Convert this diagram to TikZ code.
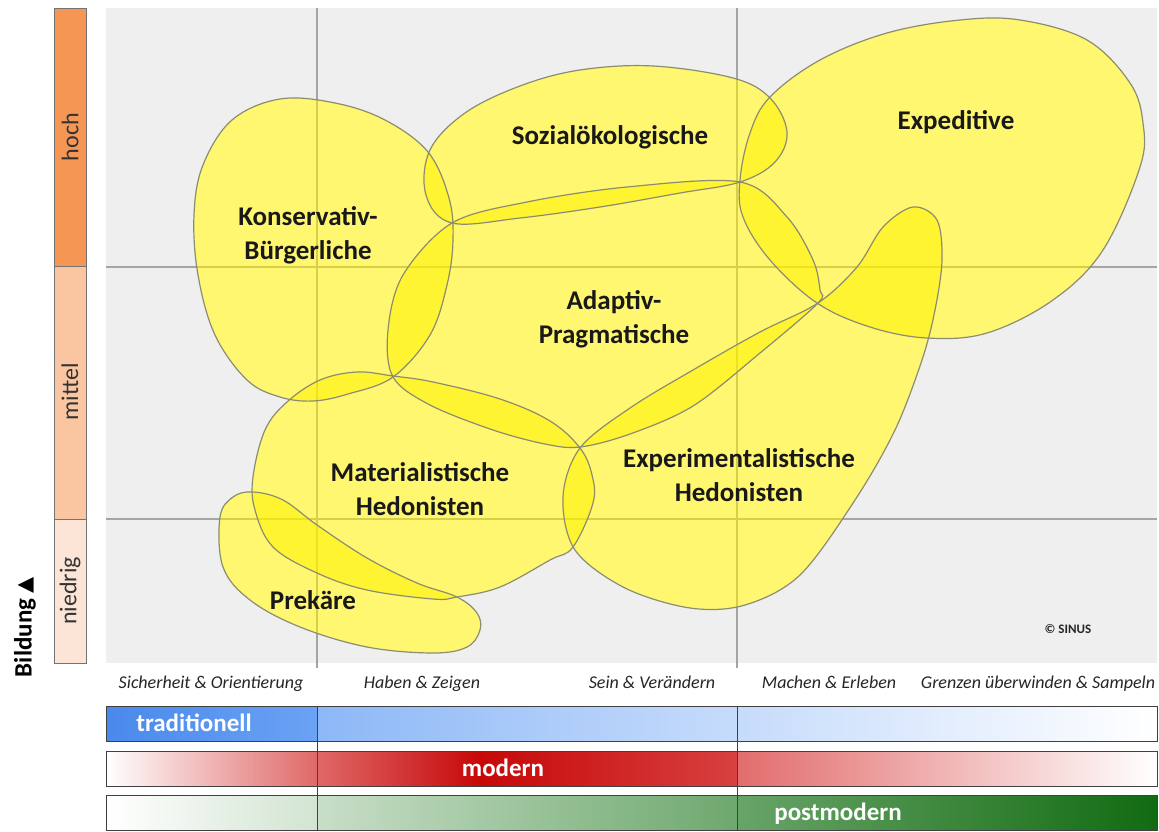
\documentclass[tikz,border=0pt]{standalone}
\usepackage{fontspec}
\setmainfont{Carlito}
\newfontfamily\dejavu{DejaVu Sans}
\definecolor{bgc}{HTML}{EFEFEF}
\definecolor{gridc}{HTML}{A4A4A4}
\definecolor{outl}{HTML}{8C8C72}
\definecolor{hochc}{HTML}{F59655}
\definecolor{mittelc}{HTML}{FAC6A2}
\definecolor{niedrigc}{HTML}{FCE4D6}
\definecolor{tradA}{HTML}{4A89EC}
\definecolor{tradB}{HTML}{6AA2F4}
\definecolor{tradC}{HTML}{8DB8F7}
\definecolor{modA}{HTML}{E06868}
\definecolor{modB}{HTML}{C60808}
\definecolor{modC}{HTML}{D84040}
\definecolor{modD}{HTML}{E26C6C}
\definecolor{modE}{HTML}{EFB0B0}
\definecolor{postA}{HTML}{D2E4D2}
\definecolor{postB}{HTML}{C8DEC8}
\definecolor{postC}{HTML}{6EA86E}
\definecolor{postD}{HTML}{68A468}
\definecolor{postE}{HTML}{126B12}
\begin{document}
\begin{tikzpicture}[x=1pt,y=-1pt,
  under/.style={fill=white, draw=none},
  blob/.style={fill=yellow, fill opacity=0.56, draw=none},
  blobline/.style={draw=outl, line width=1.2pt},
  gridline/.style={draw=gridc, line width=1.4pt},
  lab/.style={font=\fontsize{27}{34}\selectfont\bfseries, align=center, text=black!90, inner sep=0pt},
  xlab/.style={font=\fontsize{18}{22}\selectfont\itshape, text=black!85, inner sep=0pt, anchor=base},
  barlab/.style={font=\fontsize{25}{30}\selectfont\bfseries, text=white, inner sep=0pt, anchor=base},
  lvl/.style={font=\fontsize{24}{28}\selectfont, text=black!80, rotate=90, inner sep=0pt},
  lvlbox/.style={draw=black!55, line width=0.9pt},
  barbox/.style={draw=black!75, line width=1pt}
]
\useasboundingbox (0,0) rectangle (1159,832);
\fill[white] (0,0) rectangle (1159,832);

% shapes
\def\shK{plot[smooth cycle, tension=0.6] coordinates {(280,99) (335,103) (385,120) (428,152) (449,198) (453,240) (447,285) (430,335) (393,377) (348,394) (313,401) (280,397) (247,380) (215,335) (198,275) (194,215) (203,165) (232,120)}}
\def\shS{plot[smooth cycle, tension=0.6] coordinates {(452,223) (426,195) (430,150) (465,113) (520,86) (580,70) (653,66) (733,78) (770,98) (787,132) (775,162) (740,182) (680,193) (600,207) (520,218)}}
\def\shA{plot[smooth cycle, tension=0.55] coordinates {(452,223) (527,202) (627,187) (740,182) (787,217) (813,260) (820,290) (818,303) (760,353) (693,406) (630,434) (580,447) (545,444) (493,430) (430,405) (393,377) (388,330) (403,275)}}
\def\shE{plot[smooth cycle, tension=0.6] coordinates {(740,180) (743,217) (770,260) (817,303) (870,327) (927,338) (987,333) (1053,300) (1103,250) (1140,167) (1143,123) (1130,83) (1087,40) (1020,20) (960,20) (887,33) (820,60) (770,97) (750,133)}}
\def\shX{plot[smooth cycle, tension=0.55] coordinates {(580,448) (630,408) (693,370) (760,332) (818,303) (857,267) (883,227) (913,207) (937,220) (942,260) (935,310) (922,360) (895,430) (855,500) (800,575) (745,605) (690,608) (625,588) (575,550) (563,497)}}
\def\shM{plot[smooth cycle, tension=0.6] coordinates {(393,376) (433,382) (500,399) (550,421) (580,448) (592,475) (593,503) (573,547) (550,560) (500,587) (457,597) (433,599) (367,590) (317,573) (273,547) (255,510) (253,477) (265,430) (287,402) (320,380) (357,372)}}
\def\shP{plot[smooth cycle, tension=0.6] coordinates {(220,517) (233,497) (253,492) (283,500) (317,525) (367,558) (417,583) (457,597) (477,613) (480,630) (467,647) (433,653) (367,647) (300,627) (250,600) (223,567)}}

% plot background, white underlay, grid
\fill[bgc] (106,8) rectangle (1157,663);
\fill[under] \shK; \fill[under] \shS; \fill[under] \shA; \fill[under] \shE;
\fill[under] \shX; \fill[under] \shM; \fill[under] \shP;
\draw[gridline] (317,8) -- (317,668);
\draw[gridline] (737,8) -- (737,668);
\draw[gridline] (106,267) -- (1157,267);
\draw[gridline] (106,519) -- (1157,519);

\fill[blob] \shK; \fill[blob] \shS; \fill[blob] \shA; \fill[blob] \shE;
\fill[blob] \shX; \fill[blob] \shM; \fill[blob] \shP;
\draw[blobline] \shK; \draw[blobline] \shS; \draw[blobline] \shA; \draw[blobline] \shE;
\draw[blobline] \shX; \draw[blobline] \shM; \draw[blobline] \shP;

% left level bar
\filldraw[lvlbox, fill=hochc] (54,8) rectangle (86,266);
\filldraw[lvlbox, fill=mittelc] (54,266) rectangle (86,519);
\filldraw[lvlbox, fill=niedrigc] (54,519) rectangle (86,663);
\node[lvl] (hoch) at (70,137) {hoch};
\node[lvl] (mittel) at (70,392) {mittel};
\node[lvl] (niedrig) at (70,591) {niedrig};
\node[font=\fontsize{25}{28}\selectfont\bfseries, rotate=90, inner sep=0pt] (bildung) at (25,627) {Bildung {\dejavu\fontsize{21}{22}\selectfont ▲}};

% labels
\node[lab] (konserv) at (308,235) {Konservativ-\\Bürgerliche};
\node[lab] (sozial) at (610,137) {Sozialökologische};
\node[lab] (exped) at (956,122) {Expeditive};
\node[lab] (adaptiv) at (614,319) {Adaptiv-\\Pragmatische};
\node[lab] (materi) at (420,489) {Materialistische\\Hedonisten};
\node[lab] (experi) at (739,475) {Experimentalistische\\Hedonisten};
\node[lab] (prekaere) at (313,600) {Prekäre};
\node[font=\fontsize{13}{15}\selectfont\bfseries, text=black!85, inner sep=0pt] (sinus) at (1068,629) {© SINUS};

% axis labels
\node[xlab] (x1) at (211,688) {Sicherheit \& Orientierung};
\node[xlab] (x2) at (422,688) {Haben \& Zeigen};
\node[xlab] (x3) at (652,688) {Sein \& Verändern};
\node[xlab] (x4) at (829,688) {Machen \& Erleben};
\node[xlab] (x5) at (1038,688) {Grenzen überwinden \& Sampeln};

% bars
\shade[left color=tradA, right color=tradB] (106,706) rectangle (317,741);
\shade[left color=tradC, right color=white] (317,706) rectangle (1157,741);
\shade[left color=white, right color=modA] (106,751) rectangle (317,786);
\shade[left color=modA, right color=modB] (317,751) rectangle (480,786);
\shade[left color=modB, right color=modC] (480,751) rectangle (737,786);
\shade[left color=modD, middle color=modE, right color=white] (737,751) rectangle (1157,786);
\shade[left color=white, right color=postA] (106,795) rectangle (317,830);
\shade[left color=postB, right color=postC] (317,795) rectangle (737,830);
\shade[left color=postD, right color=postE] (737,795) rectangle (1157,830);
\draw[barbox] (106,706) rectangle (1157,741);
\draw[barbox] (106,751) rectangle (1157,786);
\draw[barbox] (106,795) rectangle (1157,830);
\draw[barbox] (317,706) -- (317,830);
\draw[barbox] (737,706) -- (737,830);
\node[barlab] (trad) at (194,731) {traditionell};
\node[barlab] (modern) at (503,776) {modern};
\node[barlab] (post) at (838,820) {postmodern};
\end{tikzpicture}
\end{document}
